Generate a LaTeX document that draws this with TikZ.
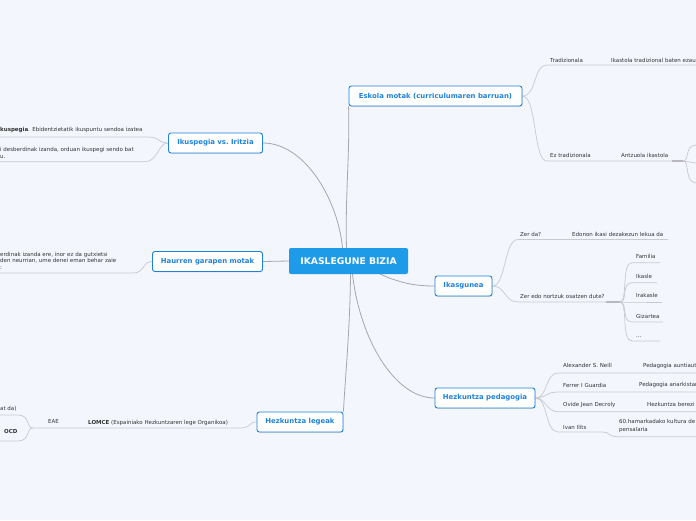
\documentclass[tikz,border=0pt]{standalone}
\usepackage{fontspec}
\setmainfont{DejaVu Sans}
\usetikzlibrary{shadows,calc}
\definecolor{bg}{HTML}{F3F6FD}
\definecolor{tblue}{HTML}{1E82DC}
\definecolor{cblue}{HTML}{1E9BE8}
\definecolor{lnk}{HTML}{A6A6AE}
\definecolor{sln}{HTML}{C9C9CF}
\definecolor{txt}{HTML}{333333}
\pgfdeclarelayer{back}
\pgfdeclarelayer{lines}
\pgfsetlayers{back,lines,main}
\begin{document}
\begin{tikzpicture}[x=1pt,y=-1pt,
 central/.style={fill=cblue,rounded corners=2pt,text=white,font=\bfseries\fontsize{9.2}{10}\selectfont,minimum width=119pt,minimum height=26pt,inner sep=0pt},
 topic/.style={draw=tblue,line width=0.9pt,fill=white,rounded corners=2.5pt,text=tblue,font=\bfseries\fontsize{6.9}{8}\selectfont,minimum height=20pt,inner sep=0pt,drop shadow={shadow xshift=0.6pt,shadow yshift=-0.8pt,opacity=0.25}},
 lbl/.style={anchor=base west,inner sep=0pt,text=txt,font=\fontsize{5.5}{6.6}\selectfont},
 mainln/.style={draw=lnk,line width=0.8pt},
 subln/.style={draw=sln,line width=0.7pt},
]
\begin{pgfonlayer}{back}
\fill[bg] (0,0) rectangle (696,520);
\end{pgfonlayer}
\useasboundingbox (0,0) rectangle (696,520);

% main nodes
\node[central] (C) at (348.5,261) {IKASLEGUNE BIZIA};
\node[topic,minimum width=173pt] (E) at (435.5,96) {Eskola motak (curriculumaren barruan)};
\node[topic,minimum width=94pt] (I) at (215.5,143) {Ikuspegia vs.\ Iritzia};
\node[topic,minimum width=110pt] (H) at (207.5,261.5) {Haurren garapen motak};
\node[topic,minimum width=57pt] (K) at (463.5,286) {Ikasgunea};
\node[topic,minimum width=100pt] (P) at (485,398) {Hezkuntza pedagogia};
\node[topic,minimum width=86pt] (L) at (300,422) {Hezkuntza legeak};

% labels
\node[lbl] (t1) at (550,62) {Tradizionala};
\node[lbl] (t2) at (611,62) {Ikastola tradizional baten ezau};
\node[lbl] (t3) at (550,157) {Ez tradizionala};
\node[lbl] (t4) at (621,157) {Antzuola ikastola};

\node[lbl] (k1t) at (520,236) {Zer da?};
\node[lbl] (k2t) at (572,236) {Edonon ikasi dezakezun lekua da};
\node[lbl] (k3t) at (520,298) {Zer edo nortzuk osatzen dute?};
\node[lbl] (f1) at (636,258.5) {Familia};
\node[lbl] (f2) at (636,278.8) {Ikasle};
\node[lbl] (f3) at (636,297.8) {Irakasle};
\node[lbl] (f4) at (636,318) {Gizartea};
\node[lbl] (f5) at (636,337) {...};

\node[lbl] (p1) at (563,367.5) {Alexander S. Neill};
\node[lbl] (p1b) at (643,367.5) {Pedagogia auntiaut};
\node[lbl] (p2) at (563,387.5) {Ferrer I Guardia};
\node[lbl] (p2b) at (639,386) {Pedagogia anarkistan};
\node[lbl] (p3) at (563,406.5) {Ovide Jean Decroly};
\node[lbl] (p3b) at (647,406.5) {Hezkuntza berezi};
\node[lbl] (p4) at (563,429.5) {Ivan Ilits};
\node[lbl,align=left,anchor=north west,font=\fontsize{5.5}{7.2}\selectfont] (p4b) at (619,419.5) {60.hamarkadako kultura de\\pensalaria};

\node[lbl] (i1t) at (0,131.8) {\textbf{kuspegia}. Ebidentzietatik ikuspuntu sendoa izatea};
\node[lbl] (i2t) at (0,151.5) {i desberdinak izanda, orduan ikuspegi sendo bat};
\node[lbl] (i3t) at (0,158) {u.};

\node[lbl] (h1t) at (0,256.5) {erdinak izanda ere, inor ez da gutxietsi};
\node[lbl] (h2t) at (0,262.5) {den neurrian, ume denei eman behar zaie};
\node[lbl] (h3t) at (0,269.5) {:};

\node[lbl] (l1t) at (88,424.8) {\textbf{LOMCE} (Espainiako Hezkuntzaren lege Organikoa)};
\node[lbl] (l2t) at (48,423.5) {EAE};
\node[lbl] (l3t) at (0,410.8) {at da)};
\node[lbl] (l4t) at (4,433.8) {\textbf{OCD}};

% coordinates
\coordinate (eb) at (683,161);
\coordinate (kb) at (620,302);
\coordinate (lb) at (33,428);

\begin{pgfonlayer}{lines}
% main connectors
\draw[mainln] ($(C.north)+(-2,0)$) .. controls (345,200) and (350,150) .. (E.south west);
\draw[mainln] (I.east) .. controls (305,143) and (338,200) .. ($(C.north)+(-6,0)$);
\draw[mainln] (H.east) -- (C.west);
\draw[mainln] ($(C.south east)+(-28,0)$) .. controls (400,283) and (415,286) .. (K.west);
\draw[mainln] ($(C.south)+(4,0)$) .. controls (360,340) and (395,398) .. (P.west);
\draw[mainln] ($(C.south)+(2,0)$) .. controls (350,330) and (345,380) .. (L.north east);

% Eskola motak
\draw[subln] (E.east) .. controls (537,96) and (533,65) .. (547,65) -- (696,65);
\draw[subln] (E.east) .. controls (537,96) and (533,161) .. (547,161) -- (eb);
\draw[draw=lnk!80,line width=1.1pt] (672,161) -- (eb);
\draw[subln] (eb) .. controls (690,161) and (684,146) .. (696,145);
\draw[subln] (eb) -- (696,163);
\draw[subln] (eb) .. controls (690,161) and (684,182) .. (696,183);

% Ikasgunea
\draw[subln] (K.east) .. controls (506,286) and (504,239.5) .. (518,239.5) -- (668,239.5);
\draw[subln] (K.east) .. controls (506,286) and (504,302) .. (518,302) -- (kb);
\draw[draw=lnk!80,line width=1.1pt] (606,302) -- (kb);
\foreach \yy/\xe in {262.7/660,282.7/657,302/662,322/663,341/660}{
  \draw[subln] (kb) .. controls (628,302) and (621,\yy) .. (632,\yy) -- (\xe,\yy);
}

% Hezkuntza pedagogia
\draw[subln] (P.east) .. controls (548,398) and (545,373) .. (558,373) -- (696,373);
\draw[subln] (P.east) .. controls (546,398) and (546,392) .. (558,392) -- (696,392);
\draw[subln] (P.east) .. controls (546,398) and (546,411.7) .. (558,411.7) -- (696,411.7);
\draw[subln] (P.east) .. controls (548,398) and (545,432) .. (558,432) -- (603,432) .. controls (610,432) and (608,436.7) .. (618,436.7) -- (696,436.7);

% Ikuspegia
\draw[subln] (I.west) .. controls (158,143) and (160,137) .. (148,137) -- (0,137);
\draw[subln] (I.west) .. controls (158,143) and (158,161.7) .. (145,161.7) -- (0,161.7);

% Haurren
\draw[subln] (H.west) .. controls (142,261.5) and (145,273) .. (133,273) -- (0,273);

% Legeak
\draw[subln] (L.west) .. controls (248,422) and (252,428) .. (240,428) -- (lb);
\draw[subln] (lb) .. controls (26,428) and (30,415) .. (18,415) -- (0,415);
\draw[subln] (lb) .. controls (26,428) and (30,441) .. (18,441) -- (0,441);
\end{pgfonlayer}
\end{tikzpicture}
\end{document}
